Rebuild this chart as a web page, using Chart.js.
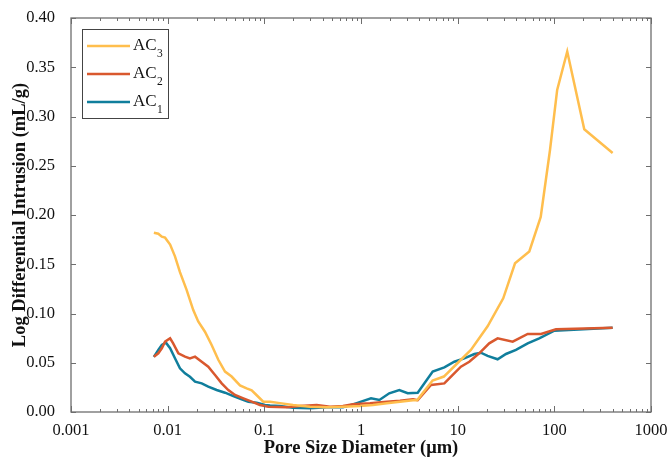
<!DOCTYPE html>
<html>
<head>
<meta charset="utf-8">
<script src="https://cdn.jsdelivr.net/npm/chart.js@4.4.1/dist/chart.umd.min.js"></script>
<style>
html,body{margin:0;padding:0;background:#fff;}
canvas{display:block;}
</style>
</head>
<body>
<canvas id="c" width="672" height="459"></canvas>
<script>
// ---- data ----
const seriesNames = ['AC3', 'AC2', 'AC1'];
const seriesColors = ['#FFBE4D', '#D9582E', '#107E9C'];

const ac3X = [0.0072,0.0080,0.0087,0.0094,0.0106,0.0119,0.0134,0.0157,0.0184,0.0207,0.0243,0.0285,0.0334,0.0392,0.0459,0.056,0.0656,0.074,0.0834,0.0975,0.115,0.145,0.198,0.297,0.442,0.651,0.977,1.33,1.85,2.53,3.45,3.8,5.5,7.2,10.3,13.7,20.4,29.6,39.2,55.1,72.3,90.2,107,136,204,401];
const ac3Y = [0.182,0.181,0.178,0.177,0.170,0.158,0.142,0.124,0.1035,0.092,0.0815,0.068,0.053,0.041,0.036,0.027,0.024,0.022,0.017,0.0105,0.0105,0.009,0.007,0.0054,0.0047,0.0054,0.006,0.007,0.0088,0.0105,0.012,0.012,0.032,0.036,0.051,0.063,0.087,0.1154,0.151,0.163,0.198,0.266,0.327,0.366,0.287,0.263];

const ac2X = [0.0072,0.0080,0.0087,0.0094,0.0106,0.0114,0.0129,0.0151,0.0170,0.0192,0.0225,0.0263,0.0309,0.0362,0.0424,0.0497,0.0607,0.074,0.090,0.110,0.170,0.234,0.348,0.478,0.651,0.826,1.24,1.85,2.53,3.45,3.86,5.3,7.28,8.53,10.8,13.2,16.7,21.2,25.9,37.1,53,72.8,104,401];
const ac2Y = [0.056,0.0596,0.0647,0.0714,0.0748,0.0697,0.0596,0.0562,0.0545,0.0562,0.051,0.046,0.0376,0.0291,0.0223,0.0173,0.0139,0.0105,0.0071,0.0054,0.0047,0.006,0.007,0.0054,0.006,0.008,0.0088,0.0105,0.0115,0.0129,0.012,0.0274,0.029,0.036,0.046,0.051,0.0596,0.0697,0.0748,0.0714,0.0792,0.0792,0.084,0.0856];

const ac1X = [0.0072,0.0080,0.0087,0.0096,0.0106,0.0119,0.0134,0.0151,0.0170,0.0192,0.0225,0.0263,0.0321,0.0392,0.0478,0.0583,0.0683,0.0834,0.1016,0.1146,0.145,0.198,0.297,0.442,0.651,0.887,1.27,1.55,1.96,2.49,3.04,3.86,5.52,7.28,9.23,11.7,14.9,17.4,20.4,25.9,31.6,40.1,53,69.8,100,401];
const ac1Y = [0.056,0.063,0.068,0.0704,0.0647,0.0545,0.0444,0.0393,0.0358,0.0308,0.0291,0.0257,0.0223,0.0196,0.0162,0.0129,0.0105,0.0095,0.0071,0.0065,0.006,0.0042,0.0037,0.0047,0.0047,0.0088,0.0139,0.0122,0.019,0.0223,0.019,0.0196,0.041,0.0453,0.051,0.0545,0.0589,0.0602,0.0569,0.0535,0.0589,0.063,0.0697,0.0748,0.0826,0.0856];

const xTicks = [0.001, 0.01, 0.1, 1, 10, 100, 1000];
const xTickLabels = ['0.001', '0.01', '0.1', '1', '10', '100', '1000'];
const yTicks = [0, 0.05, 0.10, 0.15, 0.20, 0.25, 0.30, 0.35, 0.40];
const yTickLabels = ['0.00','0.05','0.10','0.15','0.20','0.25','0.30','0.35','0.40'];
const xTitle = 'Pore Size Diameter (\u03bcm)';
const yTitle = 'Log Differential Intrusion (mL/g)';

const FONT = '"Liberation Serif", "Times New Roman", serif';
const AXIS_COLOR = '#6e6e6e';

function pairs(xs, ys) { return xs.map((x, i) => ({x: x, y: ys[i]})); }
const seriesData = [pairs(ac3X, ac3Y), pairs(ac2X, ac2Y), pairs(ac1X, ac1Y)];

const framePlugin = {
  id: 'frame',
  afterDraw(chart) {
    const ctx = chart.ctx, a = chart.chartArea;
    const xs = chart.scales.x, ys = chart.scales.y;
    ctx.save();
    ctx.strokeStyle = AXIS_COLOR;
    ctx.lineWidth = 1.3;
    ctx.strokeRect(a.left, a.top, a.right - a.left, a.bottom - a.top);
    ctx.lineWidth = 1;
    ctx.beginPath();
    for (let d = -3; d <= 3; d++) {
      for (let k = 1; k <= 9; k++) {
        const v = k * Math.pow(10, d);
        if (v > 1000 * 1.0001) break;
        const px = Math.round(xs.getPixelForValue(v)) + 0.5;
        const len = (k === 1) ? 6 : 3;
        ctx.moveTo(px, a.bottom); ctx.lineTo(px, a.bottom - len);
        ctx.moveTo(px, a.top); ctx.lineTo(px, a.top + len);
      }
    }
    yTicks.forEach(v => {
      const py = Math.round(ys.getPixelForValue(v)) + 0.5;
      ctx.moveTo(a.left, py); ctx.lineTo(a.left + 5, py);
      ctx.moveTo(a.right, py); ctx.lineTo(a.right - 5, py);
    });
    ctx.stroke();

    // legend
    const lx = 82, ly = 29, lw = 86, lh = 89;
    ctx.fillStyle = '#ffffff';
    ctx.fillRect(lx, ly, lw, lh);
    ctx.strokeStyle = '#444444';
    ctx.lineWidth = 1;
    ctx.strokeRect(lx + 0.5, ly + 0.5, lw, lh);
    chart.data.datasets.forEach((ds, i) => {
      const cy = 46 + i * 28;
      ctx.strokeStyle = ds.borderColor;
      ctx.lineWidth = 2.5;
      ctx.beginPath(); ctx.moveTo(87, cy); ctx.lineTo(130, cy); ctx.stroke();
      const name = ds.label;
      const base = name.slice(0, -1), sub = name.slice(-1);
      ctx.fillStyle = '#111111';
      ctx.textBaseline = 'alphabetic';
      ctx.textAlign = 'left';
      ctx.font = '17px ' + FONT;
      ctx.fillText(base, 133, cy + 4);
      const w = ctx.measureText(base).width;
      ctx.font = '11.5px ' + FONT;
      ctx.fillText(sub, 133 + w + 0.5, cy + 11);
    });
    ctx.restore();
  }
};

new Chart(document.getElementById('c'), {
  type: 'line',
  data: {
    datasets: seriesData.map((d, i) => ({
      label: seriesNames[i],
      data: d,
      borderColor: seriesColors[i],
      backgroundColor: seriesColors[i],
      borderWidth: 2.5,
      pointRadius: 0,
      tension: 0,
      fill: false
    }))
  },
  options: {
    responsive: false,
    animation: false,
    parsing: true,
    layout: { padding: { top: 18, right: 21, left: 0, bottom: 0 } },
    plugins: { legend: { display: false }, tooltip: { enabled: false } },
    scales: {
      x: {
        type: 'logarithmic',
        min: 0.001, max: 1000,
        grid: { display: false },
        border: { display: false },
        afterBuildTicks: s => { s.ticks = xTicks.map(v => ({ value: v })); },
        afterFit: s => { s.height = 47; },
        ticks: {
          autoSkip: false, maxRotation: 0, padding: 1,
          color: '#111111',
          font: { family: FONT, size: 16.5 },
          callback: (v) => { const i = xTicks.findIndex(t => Math.abs(t - v) / t < 1e-6); return i >= 0 ? xTickLabels[i] : ''; }
        },
        title: { display: true, text: xTitle, color: '#111111', padding: { top: 0, bottom: 0 },
                 font: { family: FONT, size: 18.5, weight: 'bold' } }
      },
      y: {
        min: 0, max: 0.4,
        grid: { display: false },
        border: { display: false },
        afterBuildTicks: s => { s.ticks = yTicks.map(v => ({ value: v })); },
        afterFit: s => { s.width = 71; },
        ticks: {
          padding: 8, color: '#111111',
          font: { family: FONT, size: 16.5 },
          callback: (v) => { const i = yTicks.findIndex(t => Math.abs(t - v) < 1e-9); return i >= 0 ? yTickLabels[i] : ''; }
        },
        title: { display: true, text: yTitle, color: '#111111', padding: { top: 9, bottom: 0 },
                 font: { family: FONT, size: 18.5, weight: 'bold' } }
      }
    }
  },
  plugins: [framePlugin]
});
</script>
</body>
</html>
